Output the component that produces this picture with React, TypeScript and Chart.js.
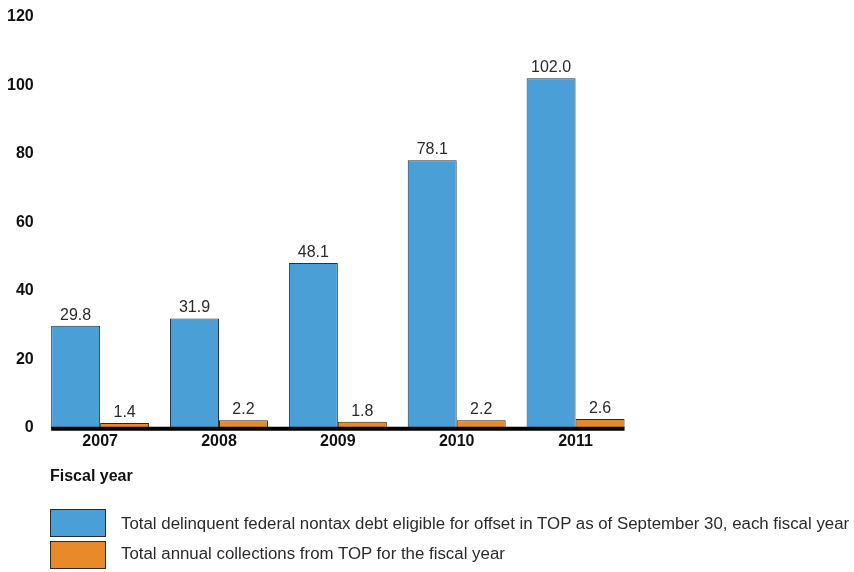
import React, { useEffect, useRef } from "react";
import { Chart, registerables } from "chart.js";

Chart.register(...registerables);

const categories = ["2007", "2008", "2009", "2010", "2011"];
const debtEligible = [29.8, 31.9, 48.1, 78.1, 102.0];
const collections = [1.4, 2.2, 1.8, 2.2, 2.6];
const yTicks = [0, 20, 40, 60, 80, 100, 120];
const seriesNames = [
  "Total delinquent federal nontax debt eligible for offset in TOP as of September 30, each fiscal year",
  "Total annual collections from TOP for the fiscal year",
];
const xAxisTitle = "Fiscal year";

const BLUE = "#4aa0d6";
const ORANGE = "#e98a2a";
const FONT = "'Liberation Sans', Arial, Helvetica, sans-serif";

const valueLabels = {
  id: "valueLabels",
  afterDatasetsDraw(chart: any) {
    const ctx = chart.ctx;
    ctx.save();
    ctx.font = `16px ${FONT}`;
    ctx.fillStyle = "#2b2b2b";
    ctx.textAlign = "center";
    ctx.textBaseline = "alphabetic";
    chart.data.datasets.forEach((ds: any, i: number) => {
      const meta = chart.getDatasetMeta(i);
      meta.data.forEach((el: any, j: number) => {
        ctx.fillText(Number(ds.data[j]).toFixed(1), el.x, el.y - 6);
      });
    });
    // baseline
    const m0 = chart.getDatasetMeta(0).data;
    const m1 = chart.getDatasetMeta(1).data;
    const first = m0[0];
    const last = m1[m1.length - 1];
    const y0 = chart.scales.y.getPixelForValue(0);
    ctx.strokeStyle = "#000";
    ctx.lineWidth = 4;
    ctx.beginPath();
    ctx.moveTo(first.x - first.width / 2, y0 + 1);
    ctx.lineTo(last.x + last.width / 2, y0 + 1);
    ctx.stroke();
    ctx.restore();
  },
};

export default function App() {
  const ref = useRef<HTMLCanvasElement | null>(null);
  useEffect(() => {
    document.body.style.margin = "0";
    const chart = new Chart(ref.current as HTMLCanvasElement, {
      type: "bar",
      data: {
        labels: categories,
        datasets: [
          {
            label: seriesNames[0],
            data: debtEligible,
            backgroundColor: BLUE,
            borderColor: "#1d3546",
            borderWidth: 1,
            borderSkipped: "bottom",
          },
          {
            label: seriesNames[1],
            data: collections,
            backgroundColor: ORANGE,
            borderColor: "#3b2208",
            borderWidth: 1,
            borderSkipped: "bottom",
          },
        ],
      },
      options: {
        animation: false,
        responsive: false,
        maintainAspectRatio: false,
        layout: { padding: { left: 0, right: 219, top: 14, bottom: 117 } },
        datasets: { bar: { categoryPercentage: 0.824, barPercentage: 1.0 } },
        plugins: { legend: { display: false }, tooltip: { enabled: false } },
        scales: {
          x: {
            grid: { display: false, drawTicks: false },
            border: { display: false },
            ticks: {
              color: "#111",
              font: { family: FONT, size: 16, weight: "bold" },
              padding: 4,
            },
          },
          y: {
            min: 0,
            max: 120,
            afterBuildTicks: (scale: any) => {
              scale.ticks = yTicks.map((v) => ({ value: v }));
            },
            grid: { display: false, drawTicks: false },
            border: { display: false },
            ticks: {
              color: "#111",
              font: { family: FONT, size: 16, weight: "bold" },
              padding: 7,
            },
          },
        },
      },
      plugins: [valueLabels],
    });
    return () => chart.destroy();
  }, []);

  const textStyle: React.CSSProperties = {
    position: "absolute",
    left: 121,
    fontFamily: FONT,
    fontSize: 16.85,
    color: "#2b2b2b",
    whiteSpace: "nowrap",
    lineHeight: "20px",
  };
  const boxStyle = (c: string, top: number): React.CSSProperties => ({
    position: "absolute",
    left: 50,
    top,
    width: 56,
    height: 28,
    boxSizing: "border-box",
    background: c,
    border: "1px solid #2a2a2a",
  });

  return (
    <div style={{ position: "relative", width: 854, height: 572, background: "#fff" }}>
      <canvas ref={ref} width={854} height={572} style={{ display: "block" }} />
      <div
        style={{
          position: "absolute",
          left: 50,
          top: 466,
          fontFamily: FONT,
          fontSize: 16,
          fontWeight: "bold",
          color: "#111",
          lineHeight: "20px",
        }}
      >
        {xAxisTitle}
      </div>
      <div style={boxStyle(BLUE, 509)} />
      <div style={boxStyle(ORANGE, 541)} />
      <div style={{ ...textStyle, top: 514 }}>{seriesNames[0]}</div>
      <div style={{ ...textStyle, top: 544 }}>{seriesNames[1]}</div>
    </div>
  );
}
